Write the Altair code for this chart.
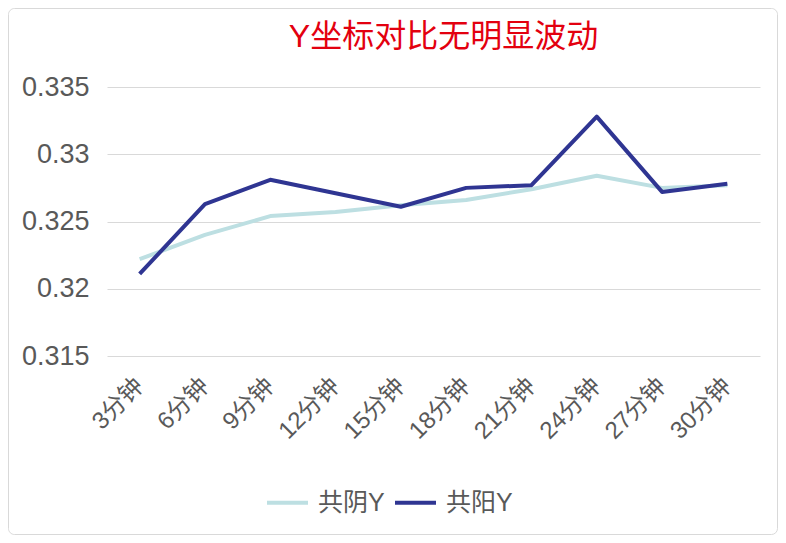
import altair as alt
import pandas as pd

categories = ["3分钟", "6分钟", "9分钟", "12分钟", "15分钟", "18分钟", "21分钟", "24分钟", "27分钟", "30分钟"]
series_names = ["共阴Y", "共阳Y"]
yin_values = [0.3222, 0.3240, 0.3254, 0.3257, 0.3262, 0.3266, 0.3274, 0.3284, 0.3275, 0.3277]
yang_values = [0.3211, 0.3263, 0.3281, 0.3271, 0.3261, 0.3275, 0.3277, 0.3328, 0.3272, 0.3278]
y_ticks = [0.315, 0.32, 0.325, 0.33, 0.335]
colors = ["#bddfe2", "#2f3592"]
title_text = "Y坐标对比无明显波动"

rows = []
for name, vals in zip(series_names, [yin_values, yang_values]):
    for i, (c, v) in enumerate(zip(categories, vals)):
        rows.append({"时间": c, "系列": name, "值": v, "idx": i})
df = pd.DataFrame(rows)

FONT = "Liberation Sans, Noto Sans CJK SC, sans-serif"
W, H = 653, 269
PL, PT, PR, PB = 99, 79, 18, 179

lines = alt.Chart(df).mark_line(strokeWidth=4, strokeJoin="round").encode(
    x=alt.X("时间:N", sort=categories, title=None,
            scale=alt.Scale(type="point", padding=0.5),
            axis=alt.Axis(labelAngle=-45, labelAlign="right", labelBaseline="middle",
                          labelFontSize=24, labelColor="#595959",
                          labelFont=FONT, ticks=False, domain=False, labelPadding=26)),
    y=alt.Y("值:Q", title=None,
            scale=alt.Scale(domain=[0.315, 0.335], nice=False, zero=False),
            axis=alt.Axis(values=y_ticks, format="~g", labelFontSize=27, labelColor="#595959",
                          labelFont=FONT, ticks=False, domain=False, labelPadding=18,
                          gridColor="#d9d9d9", gridWidth=1)),
    color=alt.Color("系列:N", sort=series_names,
                    scale=alt.Scale(domain=series_names, range=colors),
                    legend=alt.Legend(title=None, orient="none", direction="horizontal",
                                      legendX=158, legendY=393,
                                      symbolType="stroke", symbolSize=1681, symbolStrokeWidth=4,
                                      labelFontSize=25, labelColor="#595959", labelFont=FONT,
                                      labelOffset=8, columnPadding=2)),
    detail="系列:N",
    order="idx:Q",
)

border = alt.Chart(pd.DataFrame({"a": [0]})).mark_rect(
    fill="transparent", stroke="#d9d9d9", strokeWidth=1, cornerRadius=6
).encode(
    x=alt.value(-PL + 0.5), x2=alt.value(W + PR - 0.5),
    y=alt.value(-PT + 0.5), y2=alt.value(H + PB - 0.5),
)

title = alt.Chart(pd.DataFrame({"t": [title_text]})).mark_text(
    font=FONT, fontSize=32, color="#e3000f", align="center", baseline="middle"
).encode(
    text="t:N", x=alt.value(W / 2 + 10), y=alt.value(-50),
)

chart = alt.layer(border, lines, title).properties(
    width=W, height=H,
    autosize=alt.AutoSizeParams(type="none"),
    padding={"left": PL, "top": PT, "right": PR, "bottom": PB},
).configure(background="white").configure_view(stroke=None)

chart.save("out.html", embed_options={"renderer": "svg", "actions": False})
